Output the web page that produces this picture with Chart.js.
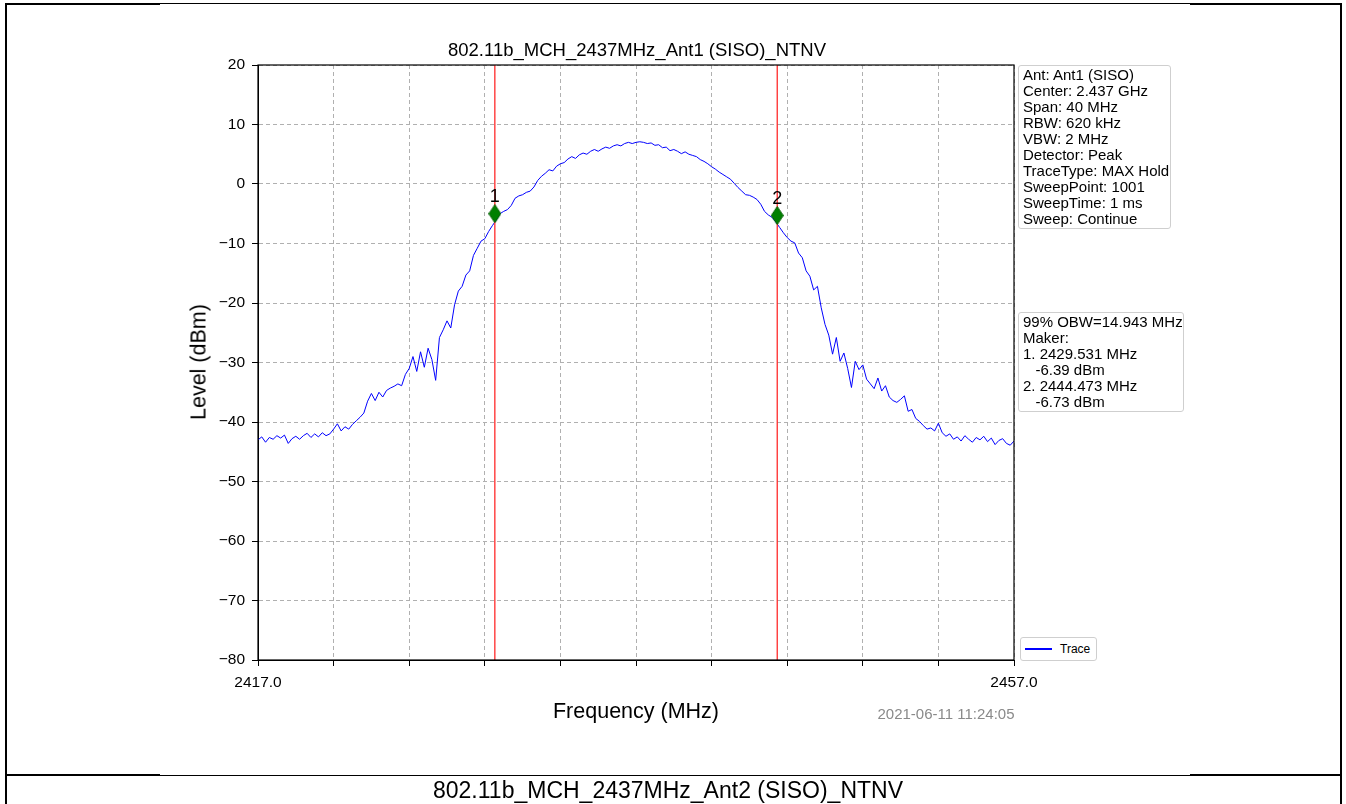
<!DOCTYPE html>
<html>
<head>
<meta charset="utf-8">
<script src="https://cdn.jsdelivr.net/npm/chart.js@4/dist/chart.umd.min.js"></script>
<style>
body { margin:0; width:1346px; height:804px; position:relative; background:#fff; overflow:hidden;
	font-family:"Liberation Sans", Arial, sans-serif; color:#000; }
.ln { position:absolute; background:#000; }
#img { position:absolute; left:160px; top:4px; width:1030px; height:771px; background:#fff; }
#chart { position:absolute; left:0; top:0; }
.txt { position:absolute; white-space:nowrap; transform:translate(-50%,-50%); }
.box { position:absolute; border:1px solid #cfcfcf; border-radius:3px; background:#fff;
	font-size:15px; line-height:16px; padding:1px 0 0 4px; box-sizing:border-box; white-space:pre; }
#legend { position:absolute; left:1020px; top:637px; width:77px; height:24px; border:1px solid #cfcfcf;
	border-radius:3px; background:#fff; box-sizing:border-box; font-size:12px; }
</style>
</head>
<body>
<div class="ln" style="left:5px;top:3px;width:2px;height:801px"></div>
<div class="ln" style="left:1340px;top:3px;width:2px;height:801px"></div>
<div class="ln" style="left:5px;top:3px;width:1337px;height:2px"></div>
<div class="ln" style="left:5px;top:774px;width:1337px;height:2px"></div>
<div id="img"></div>
<canvas id="chart" width="1346" height="804"></canvas>

<div class="txt" id="title" style="left:637px;top:50px;font-size:18.5px"></div>
<div class="txt" style="left:199px;top:362px;font-size:21.5px;transform:translate(-50%,-50%) rotate(-90deg)">Level (dBm)</div>
<div class="txt" style="left:636px;top:711px;font-size:21.5px">Frequency (MHz)</div>
<div class="txt" id="stamp" style="left:946px;top:713px;font-size:15px;color:#8a8a8a"></div>
<div class="txt" id="caption" style="left:668px;top:790px;font-size:23px"></div>

<div class="box" id="info" style="left:1018px;top:65px;width:153px;height:164px"></div>
<div class="box" id="obw" style="left:1018px;top:312px;width:166px;height:100px"></div>
<div id="legend">
	<div style="position:absolute;left:4px;top:10px;width:27px;height:1.5px;background:#0000ff"></div>
	<div style="position:absolute;left:39px;top:4px">Trace</div>
</div>

<script>
// TEXT
const plotTitle = "802.11b_MCH_2437MHz_Ant1 (SISO)_NTNV";
const pageCaption = "802.11b_MCH_2437MHz_Ant2 (SISO)_NTNV";
const timeStamp = "2021-06-11 11:24:05";
const infoLines = ["Ant: Ant1 (SISO)", "Center: 2.437 GHz", "Span: 40 MHz", "RBW: 620 kHz", "VBW: 2 MHz",
	"Detector: Peak", "TraceType: MAX Hold", "SweepPoint: 1001", "SweepTime: 1 ms", "Sweep: Continue"];
const obwLines = ["99% OBW=14.943 MHz", "Maker:", "1. 2429.531 MHz", "   -6.39 dBm", "2. 2444.473 MHz", "   -6.73 dBm"];

// AXES
const xMin = 2417, xMax = 2457, xStep = 4;
const xLabelValues = [2417, 2457];
const yMin = -80, yMax = 20, yStep = 10;

// TRACE (dBm, one point every 0.2 MHz from 2417 MHz)
const sweepStart = 2417, sweepStep = 0.2;
const levelsLowSkirt = [-43.0, -42.5, -43.4, -42.6, -42.9, -42.3, -42.7, -42.2, -43.6, -42.8, -42.4, -42.9, -42.3, -41.9, -42.6, -42.0, -42.5, -41.8, -42.3, -42.0, -41.2,
	-40.3, -41.5, -40.8, -41.2, -40.4, -39.8, -39.2, -38.5, -36.5, -35.2, -36.4, -35.0, -35.8, -34.7, -34.3, -34.0, -33.6, -33.9, -32.0, -31.0];
const levelsRise = [-29.0, -31.5, -28.2, -30.8, -27.6, -29.5, -33.0, -25.8, -24.5, -23.0, -24.2, -20.3, -18.0, -17.2, -15.3, -14.6, -12.0, -10.8, -9.6, -9.2,
	-8.0, -7.0, -6.1, -5.0, -4.6, -4.3, -3.6, -2.4, -2.0, -1.8, -1.4, -1.2, -0.5, 0.6, 1.3, 1.8, 2.4, 2.2, 3.0, 3.4];
const levelsTop = [3.6, 4.2, 4.6, 4.3, 4.9, 5.2, 5.0, 5.5, 5.8, 5.5, 5.9, 6.2, 6.0, 6.4, 6.6, 6.4, 6.8, 7.0, 6.8, 7.0,
	7.1, 7.0, 6.8, 6.9, 6.5, 6.6, 6.1, 6.2, 5.6, 5.8, 5.5, 5.1, 5.4, 5.0, 4.8, 4.6, 4.1, 3.8, 3.4, 2.9];
const levelsFall = [2.5, 2.0, 1.6, 1.2, 0.8, 0.1, -0.6, -1.2, -1.8, -1.9, -2.2, -2.6, -3.4, -4.6, -5.2, -5.6, -6.4, -7.3, -8.2, -9.0,
	-9.6, -9.9, -11.6, -12.4, -14.6, -15.5, -17.8, -17.2, -20.8, -23.6, -25.4, -28.6, -25.8, -29.8, -28.4, -31.0, -34.2, -29.8, -31.2, -30.4];
const levelsHighSkirt = [-32.8, -33.6, -34.4, -32.6, -34.8, -33.9, -35.8, -36.4, -36.7, -36.2, -35.6, -38.2, -37.9, -39.4, -39.9, -40.6, -41.2, -41.0, -41.5, -40.2,
	-41.8, -42.4, -42.0, -42.9, -42.5, -43.2, -42.3, -42.9, -43.4, -42.6, -43.0, -42.4, -43.3, -42.7, -43.8, -43.1, -42.8, -43.6, -43.9, -43.2];

// MARKERS
const markerFreqs = [2429.531, 2444.473];
const markerLevels = [-5.0, -5.3];   // where the diamonds sit on the plot
const markerNames = ["1", "2"];

document.getElementById("title").textContent = plotTitle;
document.getElementById("caption").textContent = pageCaption;
document.getElementById("stamp").textContent = timeStamp;
document.getElementById("info").textContent = infoLines.join("\n");
document.getElementById("obw").textContent = obwLines.join("\n");

const levels = [...levelsLowSkirt, ...levelsRise, ...levelsTop, ...levelsFall, ...levelsHighSkirt];
const tracePoints = levels.map((v, i) => ({x: sweepStart + i * sweepStep, y: v}));

const markerSets = markerFreqs.map(f => ({
	data: [{x: f, y: yMin}, {x: f, y: yMax}],
	borderColor: "#ff2a2a", borderWidth: 1.3, pointRadius: 0
}));

// thin diamond like matplotlib's 'd' marker
function diamondImage() {
	const c = document.createElement("canvas");
	c.width = 13; c.height = 19;
	const g = c.getContext("2d");
	g.beginPath();
	g.moveTo(6.5, 0.5); g.lineTo(12.5, 9.5); g.lineTo(6.5, 18.5); g.lineTo(0.5, 9.5);
	g.closePath();
	g.fillStyle = "#008000";
	g.fill();
	g.strokeStyle = "#006000";
	g.lineWidth = 1;
	g.stroke();
	return c;
}

const framePlugin = {
	id: "frame",
	afterDatasetsDraw(chart) {
		const {ctx, chartArea: a} = chart;
		ctx.save();
		// marker numbers above the diamonds
		const meta = chart.getDatasetMeta(0);
		ctx.fillStyle = "#000";
		ctx.font = "18px 'Liberation Sans', Arial";
		ctx.textAlign = "center";
		ctx.textBaseline = "bottom";
		meta.data.forEach((el, i) => ctx.fillText(markerNames[i], el.x, el.y - 8));
		ctx.strokeStyle = "#000";
		ctx.lineWidth = 1.2;
		ctx.strokeRect(a.left, a.top, a.right - a.left, a.bottom - a.top);
		ctx.restore();
	}
};

new Chart(document.getElementById("chart"), {
	type: "line",
	data: {
		datasets: [
			{
				data: markerFreqs.map((f, i) => ({x: f, y: markerLevels[i]})),
				showLine: false, pointStyle: diamondImage(), pointRadius: 9
			},
			...markerSets,
			{
				label: "Trace", data: tracePoints,
				borderColor: "#0000ff", borderWidth: 1, pointRadius: 0, tension: 0
			}
		]
	},
	options: {
		responsive: false,
		animation: false,
		layout: {padding: {left: 170, right: 332, top: 65, bottom: 104}},
		plugins: {legend: {display: false}, tooltip: {enabled: false}},
		scales: {
			x: {
				type: "linear", min: xMin, max: xMax,
				afterFit: s => { s.height = 40; s.paddingLeft = 0; s.paddingRight = 0; },
				ticks: {
					stepSize: xStep, autoSkip: false, maxRotation: 0, padding: 7, color: "#000",
					font: {family: "'Liberation Sans', Arial", size: 15.5},
					callback: v => xLabelValues.includes(v) ? v.toFixed(1) : ""
				},
				grid: {color: "#b0b0b0", lineWidth: 1, tickColor: "#000", tickLength: 6, tickWidth: 1},
				border: {display: true, color: "#000", dash: [4, 3]}
			},
			y: {
				min: yMin, max: yMax,
				afterFit: s => { s.width = 88; s.paddingTop = 0; s.paddingBottom = 0; },
				ticks: {
					stepSize: yStep, padding: 7, color: "#000",
					font: {family: "'Liberation Sans', Arial", size: 15.5},
					callback: v => v < 0 ? "\u2212" + Math.abs(v) : String(v)
				},
				grid: {color: "#b0b0b0", lineWidth: 1, tickColor: "#000", tickLength: 6, tickWidth: 1},
				border: {display: true, color: "#000", dash: [4, 3]}
			}
		}
	},
	plugins: [framePlugin]
});
</script>
</body>
</html>
